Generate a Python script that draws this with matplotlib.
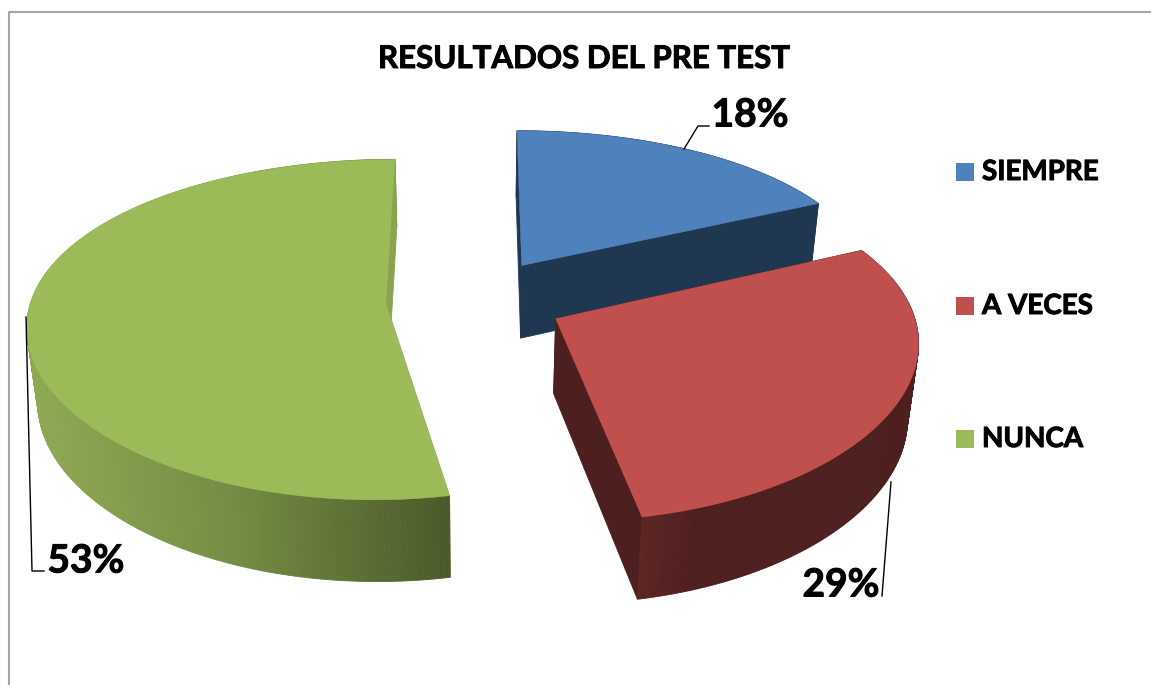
# pie chart with a 3d look, pre test results

import numpy as np
import matplotlib
matplotlib.use("Agg")
import matplotlib.pyplot as plt
import matplotlib.patheffects as pe

# data
categories = ["SIEMPRE", "A VECES", "NUNCA"]
percentages = [18, 29, 53]

# colours for top face and for the walls (position along wall, colour)
top_colors = ["#4F81BD", "#C0504D", "#9BBB59"]
arc_wall_colors = [
    [(0.0, "#203752"), (1.0, "#203752")],
    [(0.0, "#5E2523"), (0.2, "#4E1F1F"), (1.0, "#4E1F1F")],
    [(0.0, "#8FAA53"), (0.5, "#748C44"), (1.0, "#4B5A2A")],
]
side_wall_colors = ["#203752", "#4E1F1F", "#8AA34F"]

# projection of the pie plane on the picture, in pixels
center_x, center_y = 475.0, 299.5
scale_x, scale_y, depth_px = 354.5, 165.0, 76.0
persp_x, persp_y, persp_z = 0.115, 0.153, 0.025
explode = 0.252

# text looks heavier in the original
heavy = [pe.withStroke(linewidth=0.7, foreground="black")]


def project(X, Y, Z):
    dx = 1 + persp_x * Y + persp_z * Z
    dy = 1 + persp_y * Y + persp_z * Z
    return center_x + scale_x * X / dx, center_y - (scale_y * Y - depth_px * Z) / dy


def wall_color(stops, t):
    pos = [s[0] for s in stops]
    rgb = np.array([matplotlib.colors.to_rgb(s[1]) for s in stops])
    return [np.interp(t, pos, rgb[:, i]) for i in range(3)]


plt.rcParams["font.family"] = ["Lato", "DejaVu Sans"]
plt.rcParams["font.weight"] = "bold"

fig = plt.figure(figsize=(11.51, 6.85), dpi=100)
ax = fig.add_axes([0, 0, 1, 1])
ax.set_xlim(0, 1151)
ax.set_ylim(685, 0)
ax.axis("off")

# chart frame, the right and bottom sides are cut off by the picture
ax.plot([9, 9, 1151], [685, 12, 12], color="#A6A6A6", lw=1.5, solid_joinstyle="round")

# slices
edges = np.cumsum([0] + percentages) / sum(percentages) * 2 * np.pi
for i in range(len(percentages)):
    theta = np.linspace(edges[i], edges[i + 1], 240)
    mid = (edges[i] + edges[i + 1]) / 2
    ox, oy = explode * np.sin(mid), explode * np.cos(mid)
    X = ox + np.sin(theta)
    Y = oy + np.cos(theta)

    # walls, far ones first
    faces = []
    for end in [0, -1]:
        corners = [(ox, oy), (X[end], Y[end])]
        faces.append((np.mean([c[1] for c in corners]), corners, side_wall_colors[i]))
    x_top, _ = project(X, Y, 0)
    for j in range(len(theta) - 1):
        corners = [(X[j], Y[j]), (X[j + 1], Y[j + 1])]
        t = (x_top[j] - x_top.min()) / (x_top.max() - x_top.min())
        faces.append(((Y[j] + Y[j + 1]) / 2, corners, wall_color(arc_wall_colors[i], t)))
    faces.sort(key=lambda f: -f[0])

    for _, corners, color in faces:
        xs = [c[0] for c in corners]
        ys = [c[1] for c in corners]
        px0, py0 = project(np.array(xs), np.array(ys), 0)
        px1, py1 = project(np.array(xs), np.array(ys), 1)
        ax.fill(np.r_[px0, px1[::-1]], np.r_[py0, py1[::-1]], color=color, lw=0.6)

    # top face
    px, py = project(np.r_[ox, X], np.r_[oy, Y], 0)
    ax.fill(px, py, color=top_colors[i], lw=0.3)

# title
ax.text(584.5, 59, "RESULTADOS DEL PRE TEST", fontsize=22.5, ha="center", va="center",
        color="black", path_effects=heavy)

# data labels and leader lines
label_pos = [(750, 115), (841, 585), (86, 561)]
leaders = [
    ([684, 698, 709], [149, 126, 126]),
    ([891, 882], [482, 596]),
    ([26, 32, 44], [317, 571, 571]),
]
for i in range(len(percentages)):
    ax.text(label_pos[i][0], label_pos[i][1], str(percentages[i]) + "%", fontsize=28,
            ha="center", va="center", color="black", path_effects=heavy)
    ax.plot(leaders[i][0], leaders[i][1], color="black", lw=1.0)

# legend
legend_y = [172, 306, 439]
for i in range(len(categories)):
    ax.add_patch(plt.Rectangle((956, legend_y[i] - 9.5), 18, 18, color=top_colors[i], lw=0))
    ax.text(982, legend_y[i], categories[i], fontsize=20, ha="left", va="center",
            color="black", path_effects=heavy)

fig.savefig("out.png", dpi=100)
